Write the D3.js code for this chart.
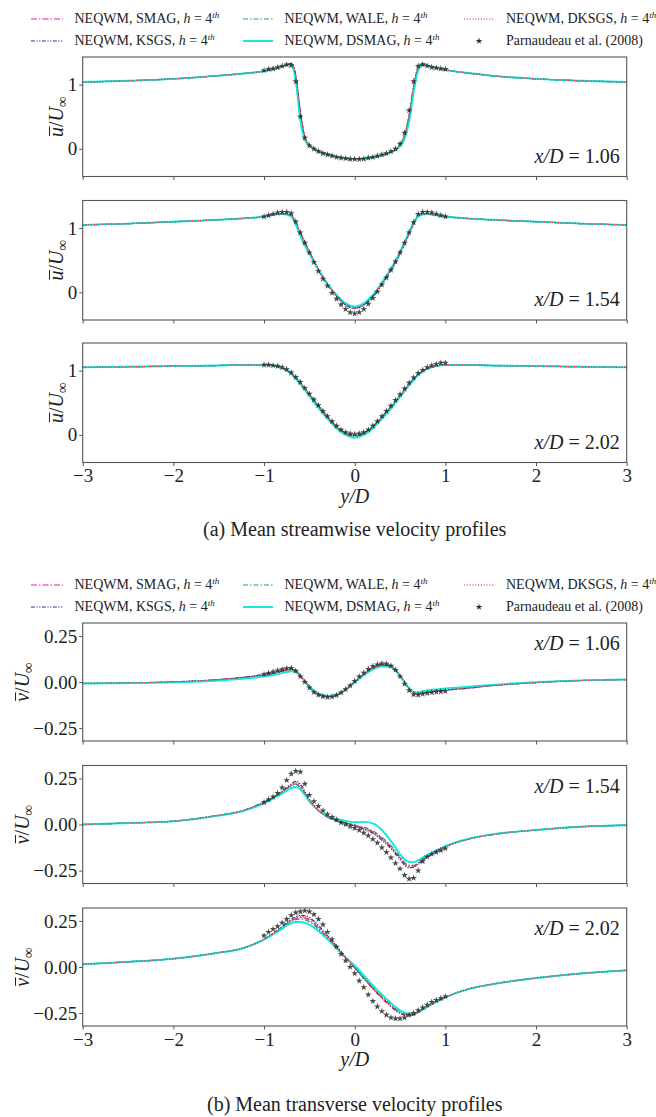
<!DOCTYPE html>
<html>
<head>
<meta charset="utf-8">
<script src="https://cdn.jsdelivr.net/npm/d3@7"></script>
<style>
  body { margin: 0; background: #fff; }
  svg text { font-family: "Liberation Serif", "Times New Roman", serif !important; }
</style>
</head>
<body>
<div id="vis"></div>
<script>
const WIDTH = 656;
const HEIGHT = 1117;
const X_LEFT = 82.7;
const X_RIGHT = 626.7;

// y/D sampling of the simulation curves
const Y_GRID = [-3, -2.5, -2, -1.5, -1.25, -1, -0.9, -0.8, -0.75, -0.7, -0.65, -0.6, -0.55, -0.5, -0.45, -0.4, -0.3, -0.2, -0.1, 0,
                0.1, 0.2, 0.3, 0.4, 0.45, 0.5, 0.55, 0.6, 0.65, 0.7, 0.75, 0.8, 0.9, 1, 1.25, 1.5, 2, 2.5, 3];
// y/D sampling of the Parnaudeau et al. points
const EXP_GRID = [-1, -0.95, -0.9, -0.85, -0.8, -0.75, -0.7, -0.65, -0.6, -0.55, -0.5, -0.45, -0.4, -0.35, -0.3, -0.25, -0.2, -0.15, -0.1, -0.05, 0,
                  0.05, 0.1, 0.15, 0.2, 0.25, 0.3, 0.35, 0.4, 0.45, 0.5, 0.55, 0.6, 0.65, 0.7, 0.75, 0.8, 0.85, 0.9, 0.95, 1];

const X_TICKS = [-3, -2, -1, 0, 1, 2, 3];
const U_TICKS = [0, 1];
const V_TICKS = [-0.25, 0, 0.25];
const STATIONS = ["1.06", "1.54", "2.02"];

// ---- streamwise u/U, x/D = 1.06
const U1_SMAG  = [1.04,1.06,1.09,1.14,1.17,1.21,1.24,1.28,1.31,1.32,1.12,0.55,0.18,0.06,0.01,-0.03,-0.08,-0.12,-0.145,-0.155,-0.15,-0.13,-0.10,-0.05,-0.01,0.06,0.20,0.50,0.95,1.25,1.32,1.30,1.26,1.23,1.18,1.14,1.09,1.06,1.04];
const U1_KSGS  = [1.04,1.06,1.09,1.14,1.17,1.21,1.24,1.28,1.31,1.33,1.15,0.58,0.19,0.06,0.01,-0.03,-0.08,-0.12,-0.145,-0.155,-0.15,-0.13,-0.10,-0.05,-0.01,0.05,0.19,0.48,0.93,1.26,1.33,1.30,1.26,1.23,1.18,1.14,1.09,1.06,1.04];
const U1_WALE  = [1.04,1.06,1.09,1.14,1.17,1.21,1.24,1.28,1.31,1.32,1.10,0.52,0.17,0.06,0.01,-0.03,-0.08,-0.12,-0.145,-0.155,-0.15,-0.13,-0.10,-0.05,-0.01,0.07,0.22,0.53,0.98,1.26,1.32,1.30,1.26,1.23,1.18,1.14,1.09,1.06,1.04];
const U1_DSMAG = [1.04,1.06,1.09,1.14,1.17,1.21,1.24,1.28,1.31,1.31,1.05,0.45,0.14,0.05,0.0,-0.04,-0.09,-0.125,-0.15,-0.16,-0.155,-0.135,-0.105,-0.055,-0.02,0.04,0.16,0.42,0.88,1.22,1.31,1.30,1.26,1.23,1.18,1.14,1.09,1.06,1.04];
const U1_DKSGS = [1.04,1.06,1.09,1.14,1.17,1.21,1.24,1.28,1.31,1.33,1.16,0.60,0.20,0.07,0.01,-0.03,-0.08,-0.115,-0.14,-0.15,-0.145,-0.125,-0.095,-0.045,-0.005,0.07,0.22,0.54,1.0,1.27,1.33,1.30,1.26,1.23,1.18,1.14,1.09,1.06,1.04];
const U1_EXP   = [1.22,1.24,1.25,1.27,1.29,1.31,1.30,1.05,0.50,0.17,0.05,0.0,-0.04,-0.07,-0.09,-0.11,-0.13,-0.14,-0.15,-0.16,-0.16,-0.16,-0.155,-0.14,-0.13,-0.11,-0.09,-0.07,-0.04,0.0,0.08,0.25,0.60,1.05,1.29,1.31,1.29,1.27,1.26,1.25,1.24];

// ---- streamwise u/U, x/D = 1.54
const U2_SMAG  = [1.05,1.07,1.10,1.13,1.15,1.18,1.21,1.22,1.22,1.20,1.08,0.92,0.77,0.63,0.49,0.36,0.13,-0.05,-0.19,-0.24,-0.19,-0.06,0.13,0.35,0.47,0.61,0.76,0.92,1.07,1.19,1.22,1.22,1.20,1.18,1.15,1.13,1.10,1.07,1.05];
const U2_KSGS  = [1.05,1.07,1.10,1.13,1.15,1.18,1.21,1.22,1.22,1.20,1.09,0.93,0.78,0.63,0.49,0.35,0.12,-0.06,-0.20,-0.25,-0.20,-0.07,0.12,0.34,0.46,0.60,0.75,0.91,1.06,1.19,1.22,1.22,1.20,1.18,1.15,1.13,1.10,1.07,1.05];
const U2_WALE  = [1.05,1.07,1.10,1.13,1.15,1.18,1.21,1.22,1.22,1.20,1.07,0.91,0.76,0.62,0.48,0.35,0.13,-0.05,-0.18,-0.23,-0.18,-0.05,0.14,0.36,0.48,0.62,0.77,0.93,1.08,1.19,1.22,1.22,1.20,1.18,1.15,1.13,1.10,1.07,1.05];
const U2_DSMAG = [1.05,1.07,1.10,1.13,1.15,1.18,1.21,1.22,1.21,1.18,1.05,0.88,0.73,0.60,0.47,0.35,0.13,-0.04,-0.17,-0.22,-0.17,-0.04,0.15,0.37,0.49,0.63,0.78,0.94,1.08,1.18,1.21,1.22,1.20,1.18,1.15,1.13,1.10,1.07,1.05];
const U2_DKSGS = [1.05,1.07,1.10,1.13,1.15,1.18,1.21,1.22,1.22,1.20,1.09,0.93,0.78,0.64,0.50,0.36,0.13,-0.05,-0.19,-0.245,-0.19,-0.06,0.13,0.35,0.47,0.61,0.76,0.92,1.07,1.19,1.22,1.22,1.20,1.18,1.15,1.13,1.10,1.07,1.05];
const U2_EXP   = [1.18,1.20,1.22,1.24,1.25,1.25,1.23,1.10,0.93,0.77,0.62,0.47,0.33,0.21,0.10,-0.01,-0.10,-0.19,-0.26,-0.31,-0.33,-0.31,-0.26,-0.18,-0.09,0.01,0.12,0.23,0.35,0.48,0.62,0.77,0.93,1.09,1.22,1.25,1.25,1.24,1.22,1.20,1.18];

// ---- streamwise u/U, x/D = 2.02
const U3_SMAG  = [1.05,1.06,1.07,1.08,1.09,1.09,1.08,1.04,1.01,0.96,0.89,0.81,0.72,0.63,0.54,0.45,0.28,0.13,0.03,-0.01,0.03,0.13,0.28,0.44,0.52,0.61,0.70,0.79,0.87,0.94,0.99,1.03,1.07,1.09,1.09,1.08,1.07,1.06,1.05];
const U3_KSGS  = [1.05,1.06,1.07,1.08,1.09,1.09,1.08,1.04,1.01,0.96,0.89,0.81,0.72,0.63,0.54,0.45,0.28,0.12,0.02,-0.015,0.02,0.12,0.27,0.43,0.51,0.60,0.69,0.78,0.86,0.93,0.99,1.03,1.07,1.09,1.09,1.08,1.07,1.06,1.05];
const U3_WALE  = [1.05,1.06,1.07,1.08,1.09,1.09,1.08,1.04,1.01,0.96,0.89,0.81,0.72,0.63,0.54,0.45,0.28,0.13,0.03,-0.005,0.03,0.13,0.28,0.44,0.52,0.61,0.70,0.79,0.87,0.94,0.99,1.03,1.07,1.09,1.09,1.08,1.07,1.06,1.05];
const U3_DSMAG = [1.05,1.06,1.07,1.08,1.09,1.09,1.08,1.04,1.00,0.95,0.87,0.79,0.70,0.61,0.51,0.42,0.25,0.10,0.0,-0.045,0.0,0.10,0.25,0.41,0.50,0.59,0.68,0.77,0.85,0.93,0.98,1.03,1.07,1.09,1.09,1.08,1.07,1.06,1.05];
const U3_DKSGS = [1.05,1.06,1.07,1.08,1.09,1.09,1.08,1.04,1.01,0.96,0.89,0.81,0.72,0.63,0.54,0.45,0.28,0.13,0.025,-0.01,0.025,0.13,0.28,0.44,0.52,0.61,0.70,0.79,0.87,0.94,0.99,1.03,1.07,1.09,1.09,1.08,1.07,1.06,1.05];
const U3_EXP   = [1.09,1.09,1.08,1.07,1.05,1.02,0.97,0.90,0.82,0.73,0.64,0.55,0.46,0.37,0.29,0.21,0.14,0.08,0.04,0.02,0.01,0.02,0.04,0.08,0.14,0.21,0.29,0.37,0.45,0.54,0.63,0.72,0.81,0.89,0.96,1.01,1.05,1.08,1.10,1.12,1.12];

// ---- transverse v/U, x/D = 1.06
const V1_SMAG  = [-0.008,-0.005,0.0,0.012,0.022,0.038,0.047,0.058,0.064,0.068,0.06,0.035,0.005,-0.025,-0.05,-0.065,-0.078,-0.07,-0.04,0.0,0.04,0.075,0.092,0.085,0.065,0.035,0.0,-0.035,-0.058,-0.062,-0.058,-0.054,-0.048,-0.043,-0.032,-0.02,-0.003,0.008,0.013];
const V1_KSGS  = [-0.008,-0.005,0.001,0.014,0.025,0.042,0.051,0.062,0.068,0.071,0.062,0.036,0.005,-0.026,-0.052,-0.068,-0.08,-0.072,-0.04,0.002,0.043,0.078,0.095,0.088,0.067,0.036,0.0,-0.036,-0.06,-0.064,-0.06,-0.056,-0.05,-0.045,-0.034,-0.021,-0.003,0.008,0.013];
const V1_WALE  = [-0.008,-0.005,0.0,0.012,0.022,0.038,0.047,0.058,0.064,0.068,0.06,0.035,0.005,-0.025,-0.05,-0.066,-0.078,-0.07,-0.04,0.0,0.04,0.074,0.091,0.085,0.065,0.035,0.0,-0.035,-0.057,-0.061,-0.057,-0.053,-0.047,-0.042,-0.031,-0.019,-0.003,0.008,0.013];
const V1_DSMAG = [-0.008,-0.006,-0.002,0.008,0.017,0.03,0.038,0.048,0.054,0.058,0.054,0.032,0.004,-0.024,-0.048,-0.063,-0.075,-0.068,-0.04,-0.002,0.036,0.068,0.085,0.08,0.062,0.034,0.0,-0.033,-0.052,-0.055,-0.05,-0.046,-0.04,-0.035,-0.026,-0.016,-0.001,0.009,0.014];
const V1_DKSGS = [-0.008,-0.005,0.001,0.013,0.024,0.04,0.049,0.06,0.066,0.07,0.061,0.035,0.005,-0.025,-0.051,-0.066,-0.079,-0.071,-0.04,0.001,0.042,0.077,0.094,0.087,0.066,0.035,0.0,-0.035,-0.059,-0.063,-0.059,-0.055,-0.049,-0.044,-0.033,-0.02,-0.003,0.008,0.013];
const V1_EXP   = [0.042,0.048,0.055,0.062,0.068,0.074,0.076,0.06,0.03,0.0,-0.03,-0.055,-0.07,-0.078,-0.082,-0.08,-0.072,-0.058,-0.04,-0.02,0.005,0.03,0.05,0.07,0.085,0.095,0.1,0.098,0.088,0.065,0.03,-0.01,-0.045,-0.068,-0.07,-0.065,-0.06,-0.057,-0.054,-0.052,-0.05];

// ---- transverse v/U, x/D = 1.54
const V2_SMAG  = [0.0,0.008,0.018,0.05,0.072,0.12,0.145,0.175,0.195,0.21,0.22,0.205,0.17,0.13,0.1,0.075,0.04,0.02,0.008,-0.005,-0.02,-0.04,-0.075,-0.12,-0.15,-0.18,-0.21,-0.225,-0.225,-0.21,-0.19,-0.175,-0.145,-0.12,-0.08,-0.056,-0.03,-0.012,-0.004];
const V2_KSGS  = [0.0,0.008,0.018,0.05,0.073,0.122,0.148,0.18,0.202,0.22,0.235,0.22,0.18,0.135,0.103,0.078,0.042,0.02,0.006,-0.008,-0.025,-0.048,-0.085,-0.13,-0.16,-0.19,-0.22,-0.235,-0.232,-0.215,-0.195,-0.178,-0.147,-0.121,-0.08,-0.056,-0.03,-0.012,-0.004];
const V2_WALE  = [0.0,0.008,0.018,0.05,0.072,0.12,0.145,0.175,0.195,0.21,0.218,0.2,0.168,0.128,0.1,0.075,0.042,0.022,0.01,-0.002,-0.015,-0.035,-0.07,-0.115,-0.145,-0.175,-0.205,-0.222,-0.222,-0.208,-0.188,-0.173,-0.144,-0.12,-0.08,-0.056,-0.03,-0.012,-0.004];
const V2_DSMAG = [0.0,0.008,0.017,0.048,0.07,0.115,0.14,0.168,0.185,0.198,0.203,0.19,0.16,0.125,0.098,0.075,0.045,0.03,0.02,0.012,0.014,0.006,-0.03,-0.09,-0.125,-0.16,-0.19,-0.203,-0.205,-0.195,-0.18,-0.167,-0.14,-0.117,-0.078,-0.055,-0.03,-0.012,-0.004];
const V2_DKSGS = [0.0,0.008,0.018,0.05,0.073,0.121,0.147,0.178,0.2,0.216,0.228,0.212,0.175,0.133,0.102,0.077,0.041,0.02,0.007,-0.006,-0.022,-0.044,-0.08,-0.125,-0.155,-0.185,-0.215,-0.23,-0.228,-0.212,-0.192,-0.176,-0.146,-0.121,-0.08,-0.056,-0.03,-0.012,-0.004];
const V2_EXP   = [0.12,0.135,0.15,0.17,0.2,0.24,0.275,0.29,0.285,0.22,0.16,0.125,0.1,0.075,0.055,0.04,0.025,0.01,0.0,-0.01,-0.02,-0.03,-0.045,-0.06,-0.08,-0.1,-0.125,-0.15,-0.18,-0.21,-0.24,-0.275,-0.295,-0.29,-0.25,-0.2,-0.175,-0.16,-0.15,-0.14,-0.13];

// ---- transverse v/U, x/D = 2.02
const V3_SMAG  = [0.015,0.028,0.045,0.078,0.1,0.15,0.18,0.215,0.235,0.25,0.262,0.268,0.265,0.255,0.237,0.212,0.16,0.105,0.05,-0.005,-0.06,-0.115,-0.165,-0.21,-0.23,-0.245,-0.255,-0.26,-0.255,-0.245,-0.23,-0.215,-0.19,-0.165,-0.12,-0.095,-0.06,-0.035,-0.018];
const V3_KSGS  = [0.015,0.028,0.045,0.078,0.1,0.152,0.183,0.22,0.242,0.258,0.272,0.28,0.278,0.268,0.25,0.225,0.17,0.112,0.055,-0.003,-0.06,-0.117,-0.168,-0.215,-0.236,-0.252,-0.262,-0.265,-0.26,-0.248,-0.232,-0.216,-0.19,-0.165,-0.12,-0.095,-0.06,-0.035,-0.018];
const V3_WALE  = [0.015,0.028,0.045,0.078,0.1,0.15,0.18,0.214,0.233,0.247,0.257,0.26,0.256,0.246,0.229,0.205,0.155,0.102,0.048,-0.004,-0.057,-0.11,-0.16,-0.205,-0.226,-0.242,-0.252,-0.257,-0.254,-0.244,-0.23,-0.215,-0.19,-0.165,-0.12,-0.095,-0.06,-0.035,-0.018];
const V3_DSMAG = [0.015,0.028,0.045,0.077,0.099,0.148,0.176,0.208,0.225,0.237,0.244,0.245,0.24,0.23,0.215,0.195,0.15,0.1,0.052,0.008,-0.045,-0.1,-0.15,-0.195,-0.217,-0.235,-0.247,-0.253,-0.253,-0.245,-0.232,-0.217,-0.19,-0.165,-0.12,-0.095,-0.06,-0.035,-0.018];
const V3_DKSGS = [0.015,0.028,0.045,0.078,0.1,0.151,0.182,0.218,0.24,0.255,0.267,0.274,0.272,0.262,0.244,0.219,0.165,0.108,0.052,-0.005,-0.061,-0.117,-0.167,-0.213,-0.234,-0.25,-0.26,-0.263,-0.258,-0.247,-0.231,-0.216,-0.19,-0.165,-0.12,-0.095,-0.06,-0.035,-0.018];
const V3_EXP   = [0.17,0.19,0.205,0.22,0.24,0.26,0.28,0.295,0.3,0.305,0.3,0.285,0.26,0.23,0.19,0.15,0.11,0.07,0.035,0.0,-0.035,-0.075,-0.11,-0.15,-0.185,-0.215,-0.24,-0.26,-0.275,-0.28,-0.28,-0.275,-0.26,-0.25,-0.235,-0.22,-0.205,-0.19,-0.18,-0.17,-0.16];

// line styles of the five simulations
const MODELS = [
  {key: "SMAG",  name: "SMAG",  color: "#ee1d9a", width: 1.2, dash: "6,2,1.5,2"},
  {key: "KSGS",  name: "KSGS",  color: "#2e2a96", width: 1.2, dash: "4,1.5,1.2,1.5,1.2,1.5"},
  {key: "WALE",  name: "WALE",  color: "#1fa060", width: 1.2, dash: "5,2,1.5,2"},
  {key: "DSMAG", name: "DSMAG", color: "#10e8dc", width: 1.9, dash: null},
  {key: "DKSGS", name: "DKSGS", color: "#e8283c", width: 1.2, dash: "1.2,1.6"}
];

const PANELS = [
  {top: 57,    h: 119.5, kind: "u", st: 0, series: {SMAG: U1_SMAG, KSGS: U1_KSGS, WALE: U1_WALE, DSMAG: U1_DSMAG, DKSGS: U1_DKSGS}, exp: U1_EXP},
  {top: 200.5, h: 119.5, kind: "u", st: 1, series: {SMAG: U2_SMAG, KSGS: U2_KSGS, WALE: U2_WALE, DSMAG: U2_DSMAG, DKSGS: U2_DKSGS}, exp: U2_EXP},
  {top: 343,   h: 119.5, kind: "u", st: 2, series: {SMAG: U3_SMAG, KSGS: U3_KSGS, WALE: U3_WALE, DSMAG: U3_DSMAG, DKSGS: U3_DKSGS}, exp: U3_EXP, xlab: true},
  {top: 623,   h: 118,   kind: "v", st: 0, series: {SMAG: V1_SMAG, KSGS: V1_KSGS, WALE: V1_WALE, DSMAG: V1_DSMAG, DKSGS: V1_DKSGS}, exp: V1_EXP},
  {top: 765.5, h: 118,   kind: "v", st: 1, series: {SMAG: V2_SMAG, KSGS: V2_KSGS, WALE: V2_WALE, DSMAG: V2_DSMAG, DKSGS: V2_DKSGS}, exp: V2_EXP},
  {top: 908,   h: 118,   kind: "v", st: 2, series: {SMAG: V3_SMAG, KSGS: V3_KSGS, WALE: V3_WALE, DSMAG: V3_DSMAG, DKSGS: V3_DKSGS}, exp: V3_EXP, xlab: true}
];

const FRAME = d3.select("#vis")
  .append("svg")
    .attr("width", WIDTH)
    .attr("height", HEIGHT);

FRAME.append("rect").attr("width", WIDTH).attr("height", HEIGHT).attr("fill", "#fff");

const X_SCALE = d3.scaleLinear().domain([-3, 3]).range([X_LEFT, X_RIGHT]);

function drawPanel(p) {
  const yDomain = p.kind === "u" ? [-0.43, 1.43] : [-0.32, 0.32];
  const Y_SCALE = d3.scaleLinear().domain(yDomain).range([p.top + p.h, p.top]);
  const g = FRAME.append("g");

  const clipId = "clip" + Math.round(p.top);
  g.append("clipPath").attr("id", clipId)
    .append("rect").attr("x", X_LEFT).attr("y", p.top).attr("width", X_RIGHT - X_LEFT).attr("height", p.h);

  const line = d3.line()
    .x((d) => X_SCALE(d[0]))
    .y((d) => Y_SCALE(d[1]))
    .curve(d3.curveMonotoneX);

  const plot = g.append("g").attr("clip-path", "url(#" + clipId + ")");
  MODELS.forEach((m) => {
    const pts = Y_GRID.map((y, i) => [y, p.series[m.key][i]]);
    plot.append("path")
      .attr("d", line(pts))
      .attr("fill", "none")
      .attr("stroke", m.color)
      .attr("stroke-width", m.width)
      .attr("stroke-dasharray", m.dash);
  });

  const star = d3.symbol().type(d3.symbolStar).size(14);
  plot.selectAll(".exp")
    .data(EXP_GRID.map((y, i) => [y, p.exp[i]]))
    .enter()
    .append("path")
      .attr("d", star)
      .attr("transform", (d) => "translate(" + X_SCALE(d[0]) + "," + Y_SCALE(d[1]) + ")")
      .attr("fill", "#2a2a2a")
      .attr("opacity", 0.85);

  // axes
  const yAxis = d3.axisLeft(Y_SCALE)
    .tickValues(p.kind === "u" ? U_TICKS : V_TICKS)
    .tickSize(3.5).tickPadding(2)
    .tickFormat(p.kind === "u" ? d3.format("d") : d3.format(".2f"));
  const ya = g.append("g").attr("transform", "translate(" + X_LEFT + ",0)").call(yAxis);

  const xAxis = d3.axisBottom(X_SCALE)
    .tickValues(X_TICKS)
    .tickSize(3.5).tickPadding(3)
    .tickFormat(p.xlab ? d3.format("d") : "");
  const xa = g.append("g").attr("transform", "translate(0," + (p.top + p.h) + ")").call(xAxis);

  [ya, xa].forEach((a) => {
    a.attr("font-family", null);
    a.select(".domain").remove();
    a.selectAll("line").attr("stroke", "#555");
    a.selectAll("text").attr("font-size", 19).attr("fill", "#222");
  });

  g.append("rect")
    .attr("x", X_LEFT).attr("y", p.top)
    .attr("width", X_RIGHT - X_LEFT).attr("height", p.h)
    .attr("fill", "none").attr("stroke", "#555").attr("stroke-width", 1.1);

  // y label, rotated, with a drawn overline on the velocity symbol
  const labX = p.kind === "u" ? 56 : 22;
  const cy = p.top + p.h / 2;
  const lg = g.append("g").attr("transform", "translate(" + labX + "," + cy + ") rotate(-90)");
  const yl = lg.append("text")
    .attr("text-anchor", "middle")
    .attr("y", 7)
    .attr("font-size", 20).attr("fill", "#222");
  yl.append("tspan").attr("font-style", "italic").text(p.kind);
  yl.append("tspan").text("/");
  yl.append("tspan").attr("font-style", "italic").text("U");
  yl.append("tspan").attr("font-size", 15).attr("dy", 4).text("\u221E");
  const ext = yl.node().getExtentOfChar(0);
  lg.append("line")
    .attr("x1", ext.x + 1).attr("x2", ext.x + ext.width + 0.5)
    .attr("y1", -6.5).attr("y2", -6.5)
    .attr("stroke", "#222").attr("stroke-width", 1);

  // station label
  const sy = p.kind === "u" ? p.top + p.h - 14 : p.top + 27;
  const st = g.append("text")
    .attr("x", X_RIGHT - 7).attr("y", sy)
    .attr("text-anchor", "end")
    .attr("font-size", 20).attr("fill", "#222");
  st.append("tspan").attr("font-style", "italic").text("x/D");
  st.append("tspan").text(" = " + STATIONS[p.st]);

  if (p.xlab) {
    g.append("text")
      .attr("x", (X_LEFT + X_RIGHT) / 2).attr("y", p.top + p.h + 40)
      .attr("text-anchor", "middle")
      .attr("font-size", 20).attr("fill", "#222")
      .attr("font-style", "italic")
      .text("y/D");
  }
}

function drawLegend(cy) {
  const cols = [{h0: 31, h1: 63, tx: 74.5}, {h0: 243, h1: 273, tx: 284.5}, {h0: 464, h1: 494, tx: 506}];
  const items = [
    {m: MODELS[0], c: 0, r: 0}, {m: MODELS[2], c: 1, r: 0}, {m: MODELS[4], c: 2, r: 0},
    {m: MODELS[1], c: 0, r: 1}, {m: MODELS[3], c: 1, r: 1}, {m: null, c: 2, r: 1}
  ];
  const lg = FRAME.append("g");
  items.forEach((it) => {
    const col = cols[it.c];
    const y = cy + it.r * 22;
    if (it.m) {
      lg.append("line")
        .attr("x1", col.h0).attr("x2", col.h1).attr("y1", y).attr("y2", y)
        .attr("stroke", it.m.color).attr("stroke-width", it.m.width)
        .attr("stroke-dasharray", it.m.dash);
      const t = lg.append("text").attr("x", col.tx).attr("y", y).attr("dy", "0.32em")
        .attr("font-size", 14).attr("fill", "#222");
      t.append("tspan").text("NEQWM, " + it.m.name + ", ");
      t.append("tspan").attr("font-style", "italic").text("h");
      t.append("tspan").text(" = 4");
      t.append("tspan").attr("font-style", "italic").attr("font-size", 9).attr("dy", -5).text("th");
    } else {
      lg.append("path")
        .attr("d", d3.symbol().type(d3.symbolStar).size(14))
        .attr("transform", "translate(" + (col.h0 + col.h1) / 2 + "," + y + ")")
        .attr("fill", "#2a2a2a");
      lg.append("text").attr("x", col.tx).attr("y", y).attr("dy", "0.32em")
        .attr("font-size", 14).attr("fill", "#222")
        .text("Parnaudeau et al. (2008)");
    }
  });
}

drawLegend(19);
drawLegend(585);
PANELS.forEach(drawPanel);

FRAME.append("text").attr("x", 354.7).attr("y", 536).attr("text-anchor", "middle")
  .attr("font-size", 20).attr("fill", "#222").text("(a) Mean streamwise velocity profiles");
FRAME.append("text").attr("x", 354.7).attr("y", 1111).attr("text-anchor", "middle")
  .attr("font-size", 20).attr("fill", "#222").text("(b) Mean transverse velocity profiles");
</script>
</body>
</html>
